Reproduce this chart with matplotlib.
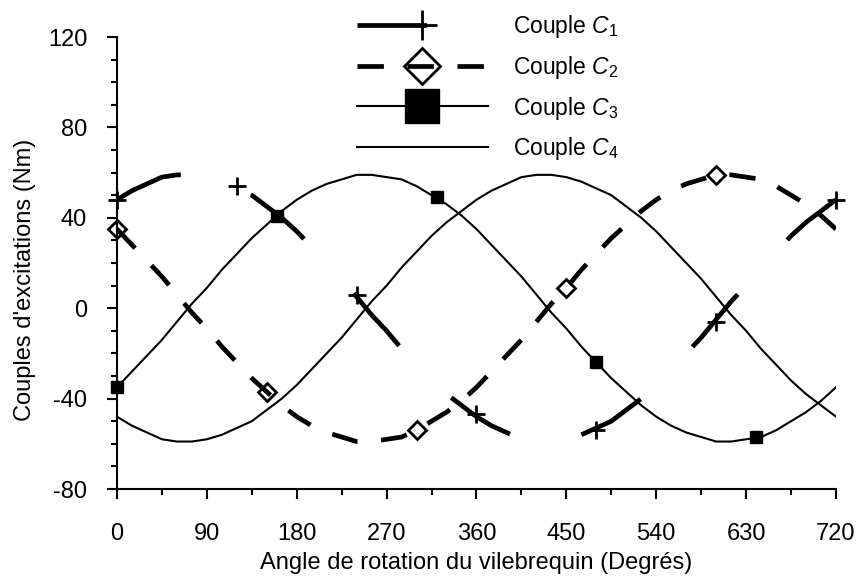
import numpy as np
import matplotlib
matplotlib.use("Agg")
import matplotlib.pyplot as plt
from matplotlib.lines import Line2D
from matplotlib.ticker import MultipleLocator

plt.rcParams['font.family'] = ['Liberation Sans', 'DejaVu Sans']
plt.rcParams['mathtext.fontset'] = 'custom'
plt.rcParams['mathtext.rm'] = 'Liberation Sans'
plt.rcParams['mathtext.it'] = 'Liberation Sans:italic'
plt.rcParams['lines.scale_dashes'] = False
plt.rcParams['axes.unicode_minus'] = False

# angle du vilebrequin (deg), pas de 15
angle = np.arange(0, 721, 15)

# couples (Nm)
c1 = [48, 52, 55, 58, 59, 59, 58, 56, 53, 50, 45, 40, 34, 27, 20, 13, 5,
      -3, -10, -18, -25, -32, -38, -43, -48, -52, -55, -58, -59, -59, -58,
      -56, -53, -50, -45, -40, -34, -27, -20, -13, -5, 3, 10, 18, 25, 32,
      38, 43, 48]
c2 = [35, 28, 21, 14, 6, -2, -9, -17, -24, -31, -37, -43, -48, -52, -55,
      -57, -59, -59, -58, -57, -54, -50, -46, -41, -35, -28, -21, -14, -6,
      2, 9, 17, 24, 31, 37, 43, 48, 52, 55, 57, 59, 59, 58, 57, 54, 50, 46,
      41, 35]
c3 = [-35, -28, -21, -14, -6, 2, 9, 17, 24, 31, 37, 43, 48, 52, 55, 57, 59,
      59, 58, 57, 54, 50, 46, 41, 35, 28, 21, 14, 6, -2, -9, -17, -24, -31,
      -37, -43, -48, -52, -55, -57, -59, -59, -58, -57, -54, -50, -46, -41,
      -35]
c4 = [-48, -52, -55, -58, -59, -59, -58, -56, -53, -50, -45, -40, -34, -27,
      -20, -13, -5, 3, 10, 18, 25, 32, 38, 43, 48, 52, 55, 58, 59, 59, 58,
      56, 53, 50, 45, 40, 34, 27, 20, 13, 5, -3, -10, -18, -25, -32, -38,
      -43, -48]

# positions des marqueurs
c1_mk_x = [0, 120, 240, 360, 480, 600, 720]
c1_mk_y = [48, 54, 6, -47, -54, -6, 48]
c2_mk_x = [0, 150, 300, 450, 600]
c2_mk_y = [35, -37, -54, 9, 59]
c3_mk_x = [0, 160, 320, 480, 640]
c3_mk_y = [-35, 41, 49, -24, -57]

labels = [r'Couple $C_1$', r'Couple $C_2$', r'Couple $C_3$', r'Couple $C_4$']
x_ticks = [0, 90, 180, 270, 360, 450, 540, 630, 720]
y_ticks = [-80, -40, 0, 40, 80, 120]

ls1 = (0, (50, 53))
ls2 = (0, (19, 17))
lw_thick = 3.4
lw_thin = 1.5

fig = plt.figure(figsize=(8.62, 5.76), dpi=100)
ax = fig.add_axes([117/862, 1 - 489/576, 719/862, 452/576])

ax.plot(angle, c4, color='k', lw=lw_thin)
ax.plot(angle, c3, color='k', lw=lw_thin)
ax.plot(c3_mk_x, c3_mk_y, ls='none', marker='s', ms=8, color='k', clip_on=False)
ax.plot(angle, c2, color='k', lw=lw_thick, ls=ls2, dash_capstyle='butt')
ax.plot(c2_mk_x, c2_mk_y, ls='none', marker='D', ms=9, mfc='none', mec='k', mew=2, clip_on=False)
ax.plot(angle, c1, color='k', lw=lw_thick, ls=ls1, dash_capstyle='butt')
ax.plot(c1_mk_x, c1_mk_y, ls='none', marker='+', ms=13, mew=2, color='k', clip_on=False)

ax.set_xlim(0, 720)
ax.set_ylim(-80, 120)
ax.set_xticks(x_ticks)
ax.set_yticks(y_ticks)
ax.xaxis.set_minor_locator(MultipleLocator(45))
ax.yaxis.set_minor_locator(MultipleLocator(10))
for s in ['top', 'right']:
    ax.spines[s].set_visible(False)
for s in ['left', 'bottom']:
    ax.spines[s].set_linewidth(1.5)
ax.tick_params(which='major', direction='out', length=7.5, width=1.5, labelsize=17)
ax.tick_params(which='minor', direction='out', length=4.5, width=1.5)
ax.tick_params(axis='y', which='major', pad=14)
ax.tick_params(axis='x', which='major', pad=17)

ax.set_xlabel('Angle de rotation du vilebrequin (Degrés)', fontsize=17)
ax.set_ylabel("Couples d'excitations (Nm)", fontsize=17)
ax.xaxis.label.set_va('center')
ax.yaxis.label.set_va('center')
ax.xaxis.set_label_coords(0.5, -0.164)
ax.yaxis.set_label_coords(-0.128, 0.462)

handles = [
    Line2D([], [], color='k', lw=lw_thick, ls=ls1, dash_capstyle='butt', marker='+', ms=21, mew=2),
    Line2D([], [], color='k', lw=lw_thick, ls=ls2, dash_capstyle='butt', marker='D', ms=18, mfc='none', mew=2),
    Line2D([], [], color='k', lw=lw_thin, marker='s', ms=24),
    Line2D([], [], color='k', lw=lw_thin),
]
fig.legend(handles, labels, loc='upper left', bbox_to_anchor=(357/862, 1 - 13/576),
           frameon=False, fontsize=16.5, handlelength=5.7, handletextpad=1.1,
           labelspacing=0.6, borderpad=0, borderaxespad=0, numpoints=1)

fig.savefig('out.png', dpi=100)
